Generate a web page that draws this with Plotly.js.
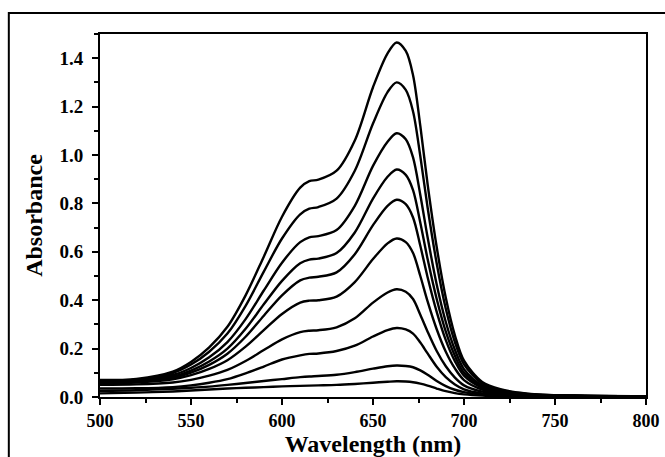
<!DOCTYPE html>
<html>
<head>
<meta charset="utf-8">
<script src="https://cdn.plot.ly/plotly-3.0.1.min.js"></script>
<style>
html,body{margin:0;padding:0;background:#fff;}
#chart{width:665px;height:457px;}
</style>
</head>
<body>
<div id="chart"></div>
<script>
// Wavelengths (nm)
const wavelength = [500, 520, 540, 550, 560, 570, 580, 590, 600, 610, 615, 620, 630, 640, 650, 658, 663, 668, 672, 676, 680, 685, 690, 695, 700, 710, 720, 735, 760, 800];

// Absorbance series (top to bottom)
const s1  = [0.070, 0.075, 0.105, 0.145, 0.205, 0.290, 0.420, 0.580, 0.745, 0.865, 0.892, 0.898, 0.935, 1.060, 1.280, 1.420, 1.465, 1.430, 1.330, 1.120, 0.880, 0.620, 0.410, 0.255, 0.150, 0.062, 0.032, 0.014, 0.006, 0.003];
const s2  = [0.068, 0.072, 0.099, 0.134, 0.187, 0.262, 0.377, 0.518, 0.655, 0.755, 0.778, 0.785, 0.820, 0.935, 1.130, 1.260, 1.300, 1.269, 1.180, 0.995, 0.783, 0.552, 0.365, 0.227, 0.135, 0.056, 0.029, 0.013, 0.005, 0.003];
const s3  = [0.065, 0.069, 0.091, 0.120, 0.164, 0.227, 0.322, 0.440, 0.555, 0.640, 0.660, 0.665, 0.690, 0.790, 0.955, 1.055, 1.090, 1.065, 0.990, 0.835, 0.660, 0.465, 0.310, 0.195, 0.115, 0.048, 0.025, 0.011, 0.005, 0.003];
const s4  = [0.062, 0.065, 0.084, 0.109, 0.147, 0.200, 0.282, 0.383, 0.480, 0.553, 0.568, 0.572, 0.595, 0.680, 0.820, 0.910, 0.940, 0.918, 0.855, 0.720, 0.570, 0.405, 0.270, 0.170, 0.100, 0.043, 0.022, 0.010, 0.005, 0.003];
const s5  = [0.060, 0.063, 0.079, 0.101, 0.133, 0.179, 0.249, 0.336, 0.420, 0.482, 0.493, 0.497, 0.515, 0.590, 0.710, 0.790, 0.815, 0.797, 0.742, 0.625, 0.495, 0.352, 0.235, 0.148, 0.088, 0.038, 0.020, 0.009, 0.004, 0.003];
const s6  = [0.058, 0.060, 0.073, 0.090, 0.116, 0.152, 0.208, 0.276, 0.343, 0.390, 0.398, 0.400, 0.415, 0.475, 0.570, 0.635, 0.655, 0.640, 0.595, 0.500, 0.395, 0.280, 0.187, 0.118, 0.070, 0.031, 0.017, 0.008, 0.004, 0.003];
const s7  = [0.050, 0.052, 0.060, 0.071, 0.088, 0.112, 0.149, 0.194, 0.238, 0.268, 0.274, 0.276, 0.288, 0.325, 0.390, 0.432, 0.445, 0.435, 0.405, 0.340, 0.270, 0.190, 0.127, 0.080, 0.048, 0.022, 0.012, 0.006, 0.003, 0.002];
const s8  = [0.035, 0.036, 0.041, 0.048, 0.059, 0.074, 0.098, 0.126, 0.155, 0.172, 0.178, 0.180, 0.190, 0.212, 0.250, 0.276, 0.285, 0.279, 0.262, 0.225, 0.180, 0.125, 0.082, 0.052, 0.032, 0.015, 0.009, 0.005, 0.003, 0.002];
const s9  = [0.025, 0.028, 0.034, 0.038, 0.043, 0.050, 0.058, 0.066, 0.074, 0.082, 0.085, 0.087, 0.092, 0.103, 0.117, 0.127, 0.130, 0.128, 0.123, 0.110, 0.092, 0.066, 0.045, 0.030, 0.020, 0.010, 0.006, 0.004, 0.002, 0.002];
const s10 = [0.015, 0.018, 0.023, 0.027, 0.031, 0.035, 0.038, 0.041, 0.044, 0.046, 0.047, 0.048, 0.050, 0.054, 0.059, 0.063, 0.065, 0.064, 0.061, 0.055, 0.047, 0.035, 0.024, 0.016, 0.011, 0.006, 0.004, 0.003, 0.002, 0.002];

// Tick values and labels
const xTickVals = [500, 550, 600, 650, 700, 750, 800];
const xTickText = ['500', '550', '600', '650', '700', '750', '800'];
const yTickVals = [0, 0.2, 0.4, 0.6, 0.8, 1.0, 1.2, 1.4];
const yTickText = ['0.0', '0.2', '0.4', '0.6', '0.8', '1.0', '1.2', '1.4'];

const series = [s1, s2, s3, s4, s5, s6, s7, s8, s9, s10];

const traces = series.map(function (ys) {
  return {
    x: wavelength, y: ys, type: 'scatter', mode: 'lines',
    line: {color: '#000', width: 2.4, shape: 'spline', smoothing: 0.9},
    hoverinfo: 'skip', showlegend: false
  };
});

const SERIF = 'Times New Roman, Liberation Serif, serif';
const bold = function (a) { return a.map(function (s) { return '<b>' + s + '</b>'; }); };

const layout = {
  width: 665, height: 457,
  margin: {l: 100, r: 19, t: 34, b: 60},
  paper_bgcolor: '#fff', plot_bgcolor: '#fff',
  font: {family: SERIF, size: 19, color: '#000'},
  showlegend: false,
  xaxis: {
    range: [500, 800], tickmode: 'array', tickvals: xTickVals, ticktext: bold(xTickText),
    showgrid: false, zeroline: false,
    showline: true, linecolor: '#000', linewidth: 2, mirror: true,
    ticks: 'outside', ticklen: 6, tickwidth: 2, tickcolor: '#000',
    minor: {dtick: 25, tick0: 500, ticks: 'outside', ticklen: 4, tickwidth: 2, tickcolor: '#000', showgrid: false},
    tickfont: {family: SERIF, size: 18, color: '#000'},
    title: {text: '<b>Wavelength (nm)</b>', font: {family: SERIF, size: 24, color: '#000'}, standoff: 3}
  },
  yaxis: {
    range: [0, 1.5], tickmode: 'array', tickvals: yTickVals, ticktext: bold(yTickText),
    showgrid: false, zeroline: false,
    showline: true, linecolor: '#000', linewidth: 2, mirror: true,
    ticks: 'outside', ticklen: 6, tickwidth: 2, tickcolor: '#000',
    ticklabelstandoff: 5,
    minor: {dtick: 0.1, tick0: 0, ticks: 'outside', ticklen: 4, tickwidth: 2, tickcolor: '#000', showgrid: false},
    tickfont: {family: SERIF, size: 19, color: '#000'},
    title: {text: '<b>Absorbance</b>', font: {family: SERIF, size: 24, color: '#000'}, standoff: 10}
  },
  shapes: [{
    type: 'rect', xref: 'paper', yref: 'paper',
    x0: -0.167, x1: 1.3, y0: -0.4, y1: 1.058,
    line: {color: '#000', width: 2}, fillcolor: 'rgba(0,0,0,0)', layer: 'below'
  }]
};

Plotly.newPlot('chart', traces, layout, {displayModeBar: false, staticPlot: true});
</script>
</body>
</html>
